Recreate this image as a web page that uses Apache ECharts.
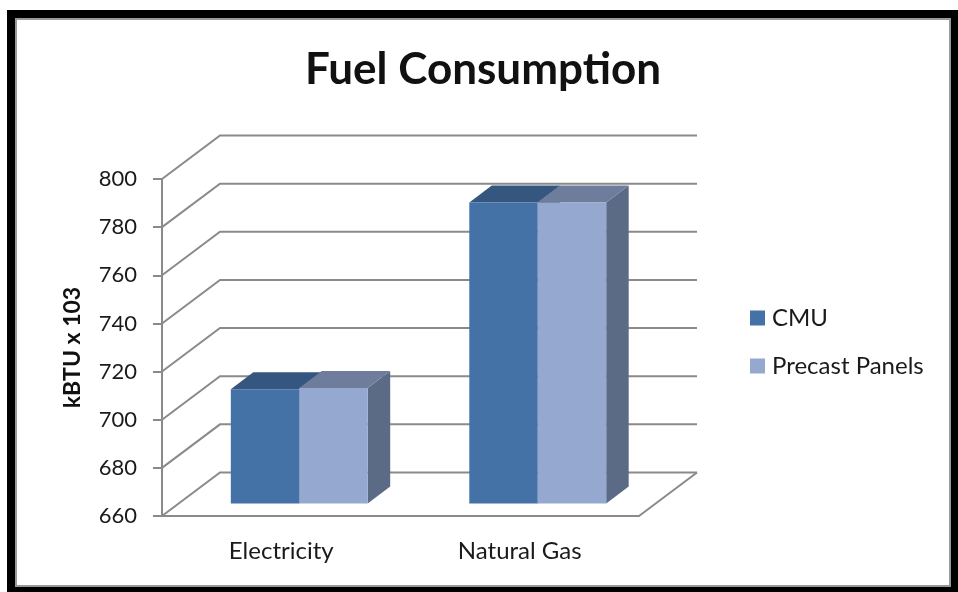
<!DOCTYPE html>
<html>
<head>
<meta charset="utf-8">
<title>Fuel Consumption</title>
<script src="https://cdn.jsdelivr.net/npm/echarts@6/dist/echarts.min.js"></script>
<style>
  html, body { margin: 0; padding: 0; background: #fff; }
  #chart { width: 958px; height: 592px; }
</style>
</head>
<body>
<div id="chart"></div>
<script>
const categories = ['Electricity', 'Natural Gas']
const cmuValues = [707.5, 785]
const precastValues = [708, 785]
const yTicks = [660, 680, 700, 720, 740, 760, 780, 800]

const font = 'Lato'
const textColor = '#1a1a1a'
const wallColor = '#8a8a8a'

// pixel depth of the fake 3d box
const wallDx = 58
const wallDy = 43.5
const barFrontDx = 18
const barFrontDy = 12.5
const barDepthDx = 22.5
const barDepthDy = 17
const barShare = 0.287

const chart = echarts.init(document.getElementById('chart'))

const renderWall = (params, api) => {
  const pt = api.coord([0, api.value(0)])
  const band = api.size([1, 0])[0]
  const left = pt[0] - band / 2
  const right = left + band * categories.length
  const lineStyle = { stroke: wallColor, lineWidth: 2, fill: null }
  const children = [{
    type: 'polyline',
    shape: { points: [[left, pt[1]], [left + wallDx, pt[1] - wallDy], [right + wallDx, pt[1] - wallDy]] },
    style: lineStyle,
  }]
  if (api.value(0) === yTicks[0]) {
    children.push({
      type: 'line',
      shape: { x1: right, y1: pt[1], x2: right + wallDx, y2: pt[1] - wallDy },
      style: lineStyle,
    })
  }
  return { type: 'group', children }
}

// slot: 0 = left bar of the pair, 1 = right bar
const makeBarRenderer = (slot, front, top, side) => (params, api) => {
  const catIndex = api.value(0)
  const band = api.size([1, 0])[0]
  const w = band * barShare
  const center = api.coord([catIndex, yTicks[0]])
  const head = api.coord([catIndex, api.value(1)])
  const x0 = center[0] + barFrontDx - w + slot * w
  const x1 = x0 + w
  const yBase = center[1] - barFrontDy
  const yTop = head[1] - barFrontDy
  return {
    type: 'group',
    children: [
      {
        type: 'polygon',
        shape: { points: [[x1, yBase], [x1 + barDepthDx, yBase - barDepthDy], [x1 + barDepthDx, yTop - barDepthDy], [x1, yTop]] },
        style: { fill: side },
      },
      {
        type: 'polygon',
        shape: { points: [[x0, yTop], [x0 + barDepthDx, yTop - barDepthDy], [x1 + barDepthDx, yTop - barDepthDy], [x1, yTop]] },
        style: { fill: top },
      },
      {
        type: 'rect',
        shape: { x: x0, y: yTop, width: w, height: yBase - yTop },
        style: { fill: front },
      },
    ],
  }
}

chart.setOption({
  animation: false,
  backgroundColor: '#fff',
  title: {
    text: 'Fuel Consumption',
    left: 478,
    top: 43,
    textAlign: 'center',
    textStyle: { fontFamily: font, fontWeight: 'bold', fontSize: 44, color: '#111' },
  },
  legend: {
    orient: 'vertical',
    left: 750,
    top: 306,
    padding: 0,
    itemWidth: 15,
    itemHeight: 15,
    itemGap: 24,
    icon: 'rect',
    textStyle: { fontFamily: font, fontSize: 24, color: textColor, lineHeight: 24, padding: [0, 0, 0, 2] },
    data: ['CMU', 'Precast Panels'],
  },
  grid: { left: 162, right: 319, top: 179, bottom: 76 },
  xAxis: {
    type: 'category',
    data: categories,
    axisLine: { lineStyle: { color: wallColor, width: 2 } },
    axisTick: { length: 6, lineStyle: { color: wallColor, width: 2 } },
    axisLabel: { fontFamily: font, fontSize: 24, color: textColor, margin: 23 },
  },
  yAxis: {
    type: 'value',
    min: 660,
    max: 800,
    interval: 20,
    name: 'kBTU x 103',
    nameLocation: 'middle',
    nameGap: 78,
    nameRotate: 90,
    nameTextStyle: { fontFamily: font, fontWeight: 'bold', fontSize: 23, color: '#111' },
    axisLine: { show: true, lineStyle: { color: wallColor, width: 2 } },
    axisTick: { show: true, length: 9, lineStyle: { color: wallColor, width: 2 } },
    axisLabel: { fontFamily: font, fontSize: 22, color: textColor, margin: 25 },
    splitLine: { show: false },
  },
  graphic: [
    { type: 'rect', z: 100, shape: { x: 11, y: 14, width: 943, height: 577 }, style: { fill: null, stroke: '#000', lineWidth: 8 } },
    { type: 'rect', z: 101, shape: { x: 16, y: 19, width: 934, height: 567 }, style: { fill: null, stroke: '#999', lineWidth: 2 } },
  ],
  series: [
    {
      type: 'custom',
      name: 'wall',
      silent: true,
      z: 1,
      renderItem: renderWall,
      encode: { y: 0 },
      data: yTicks.map((v) => [v]),
    },
    {
      type: 'custom',
      name: 'CMU',
      z: 3,
      itemStyle: { color: '#4471a6' },
      renderItem: makeBarRenderer(0, '#4471a6', '#35567f', '#45597a'),
      encode: { x: 0, y: 1 },
      data: cmuValues.map((v, i) => [i, v]),
    },
    {
      type: 'custom',
      name: 'Precast Panels',
      z: 4,
      itemStyle: { color: '#95a9d0' },
      renderItem: makeBarRenderer(1, '#95a9d0', '#6e7d9c', '#5c6b85'),
      encode: { x: 0, y: 1 },
      data: precastValues.map((v, i) => [i, v]),
    },
  ],
})
</script>
</body>
</html>
